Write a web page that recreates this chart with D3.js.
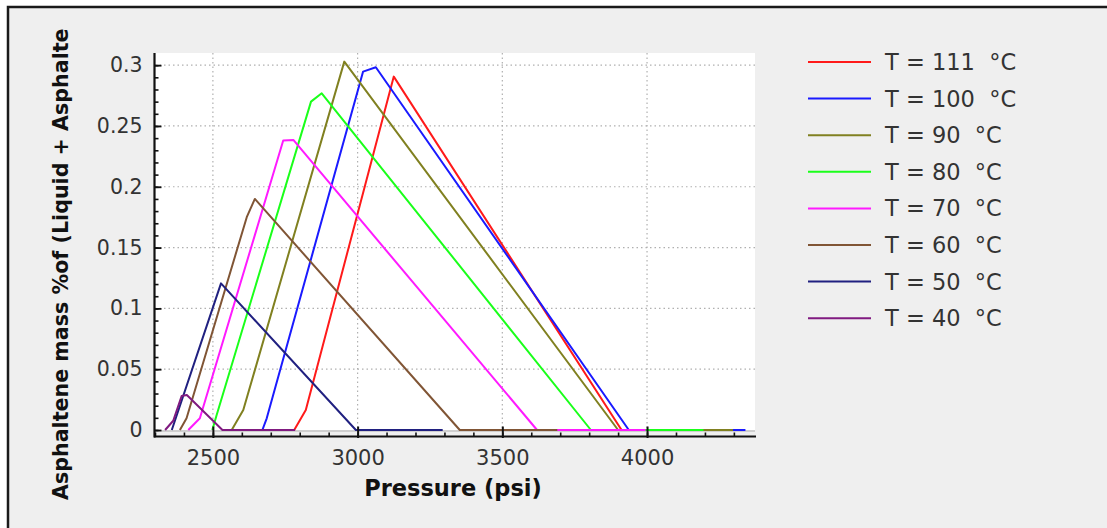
<!DOCTYPE html>
<html>
<head>
<meta charset="utf-8">
<script src="https://cdn.jsdelivr.net/npm/d3@7"></script>
<style>
  html, body { margin: 0; padding: 0; background: #ffffff; }
  svg { display: block; }
  text { font-family: "DejaVu Sans", Verdana, sans-serif; }
</style>
</head>
<body>
<svg id="chart" width="1107" height="528"></svg>
<script>
// ---------------- data ----------------
const seriesNames = ["T = 111  °C", "T = 100  °C", "T = 90  °C", "T = 80  °C",
                     "T = 70  °C", "T = 60  °C", "T = 50  °C", "T = 40  °C"];
const seriesColors = ["#ff1a1a", "#1a1aff", "#808020", "#1aff1a",
                      "#ff1aff", "#805535", "#202080", "#801a80"];

const p111 = [2781, 2821, 3125, 3912, 4330];
const v111 = [0, 0.0164, 0.2906, 0, 0];
const p100 = [2671, 2686, 3019, 3063, 3937, 4340];
const v100 = [0, 0.0096, 0.2947, 0.2983, 0, 0];
const p90  = [2565, 2605, 2954, 3900, 4297];
const v90  = [0, 0.0164, 0.3029, 0, 0];
const p80  = [2498, 2513, 2839, 2876, 3806, 4195];
const v80  = [0, 0.0123, 0.270, 0.2769, 0, 0];
const p70  = [2415, 2455, 2743, 2778, 3620, 3995];
const v70  = [0, 0.0096, 0.238, 0.2385, 0, 0];
const p60  = [2386, 2409, 2617, 2645, 3353, 3690];
const v60  = [0, 0.0096, 0.175, 0.19, 0, 0];
const p50  = [2358, 2528, 2994, 3294];
const v50  = [0, 0.1206, 0, 0];
const p40  = [2335, 2363, 2392, 2410, 2533, 2784];
const v40  = [0, 0.0076, 0.028, 0.0288, 0, 0];

const seriesP = [p111, p100, p90, p80, p70, p60, p50, p40];
const seriesV = [v111, v100, v90, v80, v70, v60, v50, v40];

const xMajorTicks = [2500, 3000, 3500, 4000];
const xTickLabels = ["2500", "3000", "3500", "4000"];
const xMinorTicks = d3.range(2300, 4400, 100);
const yMajorTicks = [0, 0.05, 0.1, 0.15, 0.2, 0.25, 0.3];
const yTickLabels = ["0", "0.05", "0.1", "0.15", "0.2", "0.25", "0.3"];
const yMinorTicks = d3.range(0, 0.31, 0.01);

const xTitle = "Pressure (psi)";
// the visible part of the (cut) y-axis title in the reference
const yTitle = "Asphaltene mass %of (Liquid + Asphalte";

// ---------------- layout ----------------
const svg = d3.select("#chart");
const plot = { left: 155, right: 755, top: 53, bottom: 430 };
const axisY = 436.5;
const textColor = "#333333";

const x = d3.scaleLinear().domain([2300, 4373]).range([plot.left, plot.right]);
const y = d3.scaleLinear().domain([0, 0.31]).range([plot.bottom, plot.top]);

// outer frame
svg.append("rect").attr("x", 8).attr("y", 7).attr("width", 1107).attr("height", 540)
  .attr("fill", "#efefef").attr("stroke", "#1a1a1a").attr("stroke-width", 2.5);

// plot background
svg.append("rect").attr("x", plot.left).attr("y", plot.top)
  .attr("width", plot.right - plot.left).attr("height", plot.bottom - plot.top + 1)
  .attr("fill", "#ffffff");

// grid
const grid = svg.append("g");
grid.selectAll(".vg").data(xMajorTicks).join("line")
  .attr("x1", d => x(d)).attr("x2", d => x(d))
  .attr("y1", plot.top).attr("y2", plot.bottom)
  .attr("stroke", "#b0b0b0").attr("stroke-width", 1.2).attr("stroke-dasharray", "1.5,3");
grid.selectAll(".hg").data(yMajorTicks.filter(d => d > 0)).join("line")
  .attr("x1", plot.left).attr("x2", plot.right)
  .attr("y1", d => y(d)).attr("y2", d => y(d))
  .attr("stroke", "#b0b0b0").attr("stroke-width", 1.2).attr("stroke-dasharray", "1.5,3");
// zero line
svg.append("line").attr("x1", plot.left).attr("x2", plot.right)
  .attr("y1", y(0) + 1).attr("y2", y(0) + 1)
  .attr("stroke", "#cfcfcf").attr("stroke-width", 2);

// series (drawn in legend order, last on top)
const line = d3.line().x(d => x(d[0])).y(d => y(d[1]));
const gSeries = svg.append("g");
seriesP.forEach((ps, i) => {
  const pts = ps.map((p, j) => [p, seriesV[i][j]]);
  gSeries.append("path").datum(pts)
    .attr("d", line)
    .attr("fill", "none")
    .attr("stroke", seriesColors[i])
    .attr("stroke-width", 2)
    .attr("stroke-linejoin", "round");
});

// x axis
const gx = svg.append("g").attr("transform", `translate(0,${axisY})`);
gx.append("g").call(d3.axisBottom(x).tickValues(xMinorTicks).tickSize(-4).tickFormat(""))
  .call(g => g.select(".domain").remove())
  .call(g => g.selectAll("line").attr("stroke", "#111").attr("stroke-width", 1.6));
gx.append("g").call(d3.axisBottom(x).tickValues(xMajorTicks).tickSize(-10).tickFormat(""))
  .call(g => g.select(".domain").remove())
  .call(g => g.selectAll("line").attr("stroke", "#111").attr("stroke-width", 2).attr("y1", 1.5));
gx.append("g").call(d3.axisBottom(x).tickValues(xMajorTicks).tickSize(0).tickPadding(14)
    .tickFormat((d, i) => xTickLabels[i]))
  .call(g => g.select(".domain").remove())
  .call(g => g.selectAll("text").attr("fill", textColor)
      .style("font-size", "21px").attr("font-family", "DejaVu Sans"));
svg.append("line").attr("x1", plot.left - 1).attr("x2", plot.right + 1)
  .attr("y1", axisY).attr("y2", axisY).attr("stroke", "#111").attr("stroke-width", 2.2);

// y axis
const axisX = plot.left - 0.5;
const gy = svg.append("g").attr("transform", `translate(${axisX},0)`);
gy.append("g").call(d3.axisLeft(y).tickValues(yMinorTicks).tickSize(-4).tickFormat(""))
  .call(g => g.select(".domain").remove())
  .call(g => g.selectAll("line").attr("stroke", "#111").attr("stroke-width", 1.6));
gy.append("g").call(d3.axisLeft(y).tickValues(yMajorTicks).tickSize(-7).tickFormat(""))
  .call(g => g.select(".domain").remove())
  .call(g => g.selectAll("line").attr("stroke", "#111").attr("stroke-width", 1.8));
gy.append("g").call(d3.axisLeft(y).tickValues(yMajorTicks).tickSize(0).tickPadding(12)
    .tickFormat((d, i) => yTickLabels[i]))
  .call(g => g.select(".domain").remove())
  .call(g => g.selectAll("text").attr("fill", textColor)
      .style("font-size", "20.5px").attr("font-family", "DejaVu Sans"));
svg.append("line").attr("x1", axisX).attr("x2", axisX)
  .attr("y1", plot.top).attr("y2", axisY + 1).attr("stroke", "#111").attr("stroke-width", 2.2);

// axis titles
svg.append("text").attr("x", 453).attr("y", 496)
  .attr("text-anchor", "middle").attr("fill", "#111")
  .style("font-size", "22.5px").style("font-weight", "bold")
  .text(xTitle);

const yt = svg.append("text")
  .attr("transform", "translate(68,500) rotate(-90)")
  .attr("text-anchor", "start").attr("fill", "#111")
  .style("font-size", "20.5px").style("font-weight", "bold")
  .text(yTitle);
// fit the visible title between y=500 and y=28 as in the reference
const ytLen = yt.node().getComputedTextLength();
if (ytLen > 0) yt.style("font-size", (20.5 * 472 / ytLen).toFixed(2) + "px");

// legend
const legend = svg.append("g");
seriesNames.forEach((name, i) => {
  const ly = 62 + i * 36.6;
  legend.append("line").attr("x1", 808).attr("x2", 871).attr("y1", ly).attr("y2", ly)
    .attr("stroke", seriesColors[i]).attr("stroke-width", 2);
  legend.append("text").attr("x", 885).attr("y", ly + 8)
    .attr("fill", textColor).style("font-size", "22.5px")
    .style("white-space", "pre").attr("xml:space", "preserve")
    .text(name);
});
</script>
</body>
</html>
